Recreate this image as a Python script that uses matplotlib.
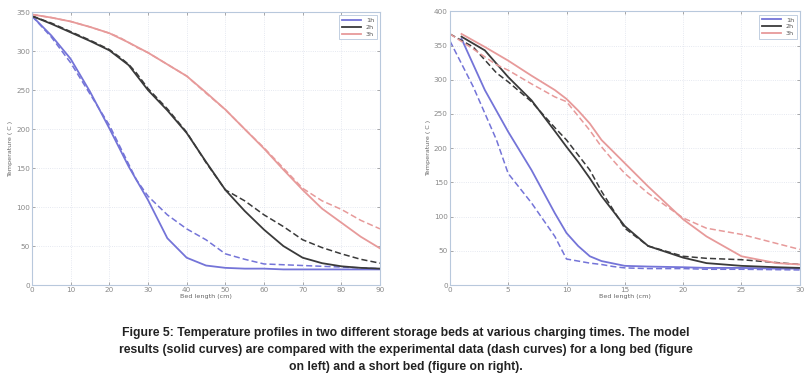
import matplotlib
matplotlib.use("Agg")
import matplotlib.pyplot as plt

# long bed (left panel)
xl_model = [0, 5, 10, 15, 20, 25, 30, 35, 40, 45, 50, 55, 60, 65, 70, 75, 80, 85, 90]
l_1h_model = [345, 320, 290, 248, 201, 152, 109, 60, 35, 25, 22, 21, 21, 20, 20, 20, 20, 20, 20]
l_2h_model = [345, 335, 324, 313, 301, 282, 250, 224, 195, 158, 122, 95, 71, 50, 35, 28, 24, 22, 21]
l_3h_model = [347, 343, 338, 331, 323, 311, 298, 283, 268, 247, 225, 200, 175, 148, 122, 98, 80, 62, 47]

xl_exp = [0, 5, 10, 15, 20, 22.5, 25, 27, 30, 35, 40, 45, 50, 55, 60, 65, 70, 75, 80, 85, 90]
l_1h_exp = [345, 318, 285, 245, 205, 180, 155, 135, 114, 90, 72, 58, 40, 33, 27, 26, 25, 24, 23, 22, 21]
l_2h_exp = [345, 336, 325, 314, 302, 293, 283, 272, 252, 226, 196, 157, 122, 108, 90, 75, 58, 48, 40, 33, 28]
l_3h_exp = [347, 343, 338, 331, 323, 318, 311, 305, 298, 283, 268, 246, 225, 200, 176, 150, 124, 108, 97, 83, 72]

# short bed (right panel)
xs_model = [1, 3, 5, 7, 9, 10, 11, 12, 13, 15, 17, 20, 22, 25, 28, 30]
s_1h_model = [360, 285, 224, 168, 105, 76, 57, 42, 35, 28, 27, 26, 25, 25, 24, 24]
s_2h_model = [363, 343, 304, 270, 225, 202, 180, 156, 130, 86, 57, 40, 32, 28, 26, 25]
s_3h_model = [367, 348, 328, 306, 285, 272, 255, 236, 212, 178, 144, 96, 71, 42, 32, 30]

xs_exp = [0, 2, 4, 5, 7, 9, 10, 12, 13, 14, 15, 17, 20, 22, 25, 30]
s_1h_exp = [357, 290, 212, 163, 120, 71, 38, 32, 30, 27, 25, 24, 24, 23, 23, 22]
s_2h_exp = [367, 348, 310, 297, 268, 230, 212, 168, 137, 110, 83, 57, 42, 39, 37, 30]
s_3h_exp = [367, 345, 322, 314, 294, 275, 268, 226, 202, 182, 163, 134, 98, 83, 74, 52]

labels = ["1h", "2h", "3h"]
colors = ["#7474d8", "#3a3a3a", "#e79a9a"]

caption = ("Figure 5: Temperature profiles in two different storage beds at various charging times. The model\n"
           "results (solid curves) are compared with the experimental data (dash curves) for a long bed (figure\n"
           "on left) and a short bed (figure on right).")

fig = plt.figure(figsize=(8.12, 3.79), dpi=100)

spine_c = "#b8c8dc"
tick_c = "#888888"


def style(ax, xticks, yticks):
    ax.set_xticks(xticks)
    ax.set_yticks(yticks)
    ax.set_xlim(xticks[0], xticks[-1])
    ax.set_ylim(yticks[0], yticks[-1])
    ax.grid(True, linestyle=":", color="#dde2ec", linewidth=0.6)
    for s in ax.spines.values():
        s.set_color(spine_c)
        s.set_linewidth(0.8)
    ax.tick_params(labelsize=5.2, colors=tick_c, length=2, width=0.5, direction="in",
                   top=True, right=True, pad=1.5)
    ax.set_xlabel("Bed length (cm)", fontsize=4.6, color="#666666", labelpad=1)
    ax.set_ylabel("Temperature ( C )", fontsize=4.6, color="#666666", labelpad=2)


def add_legend(ax):
    leg = ax.legend(loc="upper right", fontsize=4.6, handlelength=3, framealpha=1,
                    borderpad=0.4, labelspacing=0.2, fancybox=False)
    leg.get_frame().set_edgecolor(spine_c)
    leg.get_frame().set_linewidth(0.6)
    for t in leg.get_texts():
        t.set_color("#555555")


# left panel
ax1 = fig.add_axes([0.0394, 0.248, 0.4286, 0.72])
for ym, ye, c, lab in zip([l_1h_model, l_2h_model, l_3h_model],
                          [l_1h_exp, l_2h_exp, l_3h_exp], colors, labels):
    ax1.plot(xl_model, ym, color=c, lw=1.3, label=lab)
    ax1.plot(xl_exp, ye, color=c, lw=1.1, ls=(0, (4, 2)))
style(ax1, list(range(0, 91, 10)), list(range(0, 351, 50)))
add_legend(ax1)

# right panel
ax2 = fig.add_axes([0.554, 0.248, 0.431, 0.722])
for ym, ye, c, lab in zip([s_1h_model, s_2h_model, s_3h_model],
                          [s_1h_exp, s_2h_exp, s_3h_exp], colors, labels):
    ax2.plot(xs_model, ym, color=c, lw=1.3, label=lab)
    ax2.plot(xs_exp, ye, color=c, lw=1.1, ls=(0, (4, 2)))
style(ax2, list(range(0, 31, 5)), list(range(0, 401, 50)))
add_legend(ax2)

fig.text(0.5, 0.016, caption, ha="center", va="bottom", fontsize=8.8,
         fontweight="bold", family=["Liberation Sans", "DejaVu Sans"],
         linespacing=1.55, color="#222222")

fig.savefig("out.png", dpi=100)
